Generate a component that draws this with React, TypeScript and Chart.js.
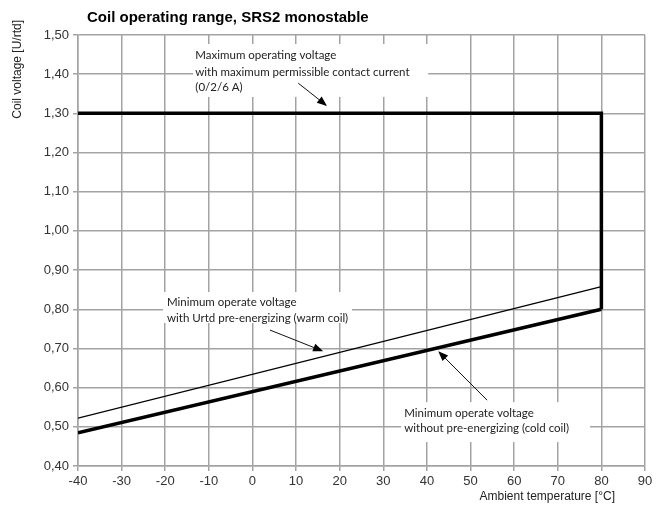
import { useEffect, useRef } from 'react';
import { Chart, registerables } from 'chart.js';

Chart.register(...registerables);

// ---- data ----
const X_MIN = -40;
const X_MAX = 90;
const Y_MIN = 0.4;
const Y_MAX = 1.5;

const rangeTemps = [-40, 80];             // start / end temperature of the curves
const maxVoltage = [1.3, 1.3];            // maximum operating voltage
const edgeVoltage = [1.3, 0.8];           // vertical limit at 80 °C
const coldCoilVoltage = [0.485, 0.8];     // without pre-energizing (cold coil)
const warmCoilVoltage = [0.522, 0.858];   // with Urtd pre-energizing (warm coil)

const titleText = 'Coil operating range, SRS2 monostable';
const yTitle = 'Coil voltage [U/rtd]';
const xTitle = 'Ambient temperature [°C]';

// annotation texts, anchored in data units
const notes = [
  {
    lines: ['Maximum operating voltage', 'with maximum permissible contact current', '(0/2/6 A)'],
    box: [-13.6, 1.477, 40.3, 1.342],
    textX: -13.1,
    lineYs: [1.449, 1.406, 1.366],
    arrow: [10.5, 1.377, 17.1, 1.319],
  },
  {
    lines: ['Minimum operate voltage', 'with Urtd pre-energizing (warm coil)'],
    box: [-20.5, 0.844, 22.8, 0.765],
    textX: -19.6,
    lineYs: [0.819, 0.778],
    arrow: [4.0, 0.747, 16.2, 0.693],
  },
  {
    lines: ['Minimum operate voltage', 'without pre-energizing (cold coil)'],
    box: [34.1, 0.563, 77.4, 0.461],
    textX: 34.8,
    lineYs: [0.535, 0.497],
    arrow: [53.8, 0.568, 42.6, 0.693],
  },
];

const notesPlugin = {
  id: 'notesPlugin',
  beforeDatasetsDraw(chart: any) {
    const { ctx, scales } = chart;
    const xs = scales.x, ys = scales.y;
    ctx.save();
    ctx.fillStyle = '#ffffff';
    for (const n of notes) {
      const x0 = xs.getPixelForValue(n.box[0]);
      const y0 = ys.getPixelForValue(n.box[1]);
      const x1 = xs.getPixelForValue(n.box[2]);
      const y1 = ys.getPixelForValue(n.box[3]);
      ctx.fillRect(x0, y0, x1 - x0, y1 - y0);
    }
    ctx.restore();
  },
  afterDatasetsDraw(chart: any) {
    const { ctx, scales } = chart;
    const xs = scales.x, ys = scales.y;
    ctx.save();
    ctx.font = '11.5px Lato';
    ctx.textAlign = 'left';
    ctx.textBaseline = 'middle';
    for (const n of notes) {
      ctx.fillStyle = '#222';
      n.lines.forEach((t, i) => {
        ctx.fillText(t, xs.getPixelForValue(n.textX), ys.getPixelForValue(n.lineYs[i]));
      });
      const ax0 = xs.getPixelForValue(n.arrow[0]);
      const ay0 = ys.getPixelForValue(n.arrow[1]);
      const ax1 = xs.getPixelForValue(n.arrow[2]);
      const ay1 = ys.getPixelForValue(n.arrow[3]);
      const ang = Math.atan2(ay1 - ay0, ax1 - ax0);
      const hl = 10, hw = 4;
      ctx.strokeStyle = '#111';
      ctx.lineWidth = 1;
      ctx.beginPath();
      ctx.moveTo(ax0, ay0);
      ctx.lineTo(ax1 - Math.cos(ang) * hl * 0.8, ay1 - Math.sin(ang) * hl * 0.8);
      ctx.stroke();
      ctx.fillStyle = '#000';
      ctx.beginPath();
      ctx.moveTo(ax1, ay1);
      ctx.lineTo(ax1 - Math.cos(ang) * hl - Math.sin(ang) * hw, ay1 - Math.sin(ang) * hl + Math.cos(ang) * hw);
      ctx.lineTo(ax1 - Math.cos(ang) * hl + Math.sin(ang) * hw, ay1 - Math.sin(ang) * hl - Math.cos(ang) * hw);
      ctx.closePath();
      ctx.fill();
    }
    ctx.restore();
  },
  afterDraw(chart: any) {
    const { ctx, chartArea } = chart;
    ctx.save();
    ctx.fillStyle = '#000';
    ctx.font = 'bold 15px "Liberation Sans", Arial, sans-serif';
    ctx.textAlign = 'left';
    ctx.textBaseline = 'middle';
    ctx.fillText(titleText, chartArea.left + 9, 18);

    ctx.fillStyle = '#222';
    ctx.font = '12px "Liberation Sans", Arial, sans-serif';
    ctx.textAlign = 'right';
    ctx.fillText(xTitle, chartArea.right - 30, 497);

    ctx.translate(18, 20);
    ctx.rotate(-Math.PI / 2);
    ctx.textAlign = 'right';
    ctx.textBaseline = 'middle';
    ctx.fillText(yTitle, 0, 0);
    ctx.restore();
  },
};

export default function App() {
  const ref = useRef<HTMLCanvasElement | null>(null);
  useEffect(() => {
    if (!ref.current) return;
    const pts = (xs: number[], ys: number[]) => xs.map((x, i) => ({ x, y: ys[i] }));
    const upper = [
      ...pts(rangeTemps, maxVoltage),
      ...pts([rangeTemps[1], rangeTemps[1]], edgeVoltage).slice(1),
    ];
    const gridColor = '#a3a3a3';
    const chart = new Chart(ref.current, {
      type: 'line',
      data: {
        datasets: [
          {
            label: 'Maximum operating voltage',
            data: upper,
            borderColor: '#000',
            borderWidth: 3.5,
            borderJoinStyle: 'miter',
            pointRadius: 0,
            fill: false,
          },
          {
            label: 'Cold coil',
            data: pts(rangeTemps, coldCoilVoltage),
            borderColor: '#000',
            borderWidth: 3.5,
            pointRadius: 0,
            fill: false,
          },
          {
            label: 'Warm coil',
            data: pts(rangeTemps, warmCoilVoltage),
            borderColor: '#000',
            borderWidth: 1.3,
            pointRadius: 0,
            fill: false,
          },
        ],
      },
      options: {
        animation: false,
        responsive: false,
        layout: { padding: { top: 35, right: 18, left: 0, bottom: 0 } },
        plugins: {
          legend: { display: false },
          title: { display: false },
          tooltip: { enabled: false },
        },
        scales: {
          x: {
            type: 'linear',
            min: X_MIN,
            max: X_MAX,
            afterFit: (s: any) => { s.height = 42; },
            ticks: {
              stepSize: 10,
              padding: 3,
              color: '#333',
              font: { family: '"Liberation Sans", Arial, sans-serif', size: 13 },
              maxRotation: 0,
            },
            grid: { color: gridColor, lineWidth: 1.5, tickLength: 5 },
            border: { color: gridColor, width: 1.5 },
          },
          y: {
            type: 'linear',
            min: Y_MIN,
            max: Y_MAX,
            afterFit: (s: any) => { s.width = 78; },
            ticks: {
              stepSize: 0.1,
              padding: 4,
              color: '#333',
              font: { family: '"Liberation Sans", Arial, sans-serif', size: 13 },
              callback: (v: any) => Number(v).toFixed(2).replace('.', ','),
            },
            grid: { color: gridColor, lineWidth: 1.5, tickLength: 5 },
            border: { color: gridColor, width: 1.5 },
          },
        },
      },
      plugins: [notesPlugin],
    });
    return () => chart.destroy();
  }, []);
  return (
    <div style={{ position: 'fixed', left: 0, top: 0, width: 663, height: 508, background: '#fff' }}>
      <canvas ref={ref} width={663} height={508} style={{ display: 'block' }} />
    </div>
  );
}
